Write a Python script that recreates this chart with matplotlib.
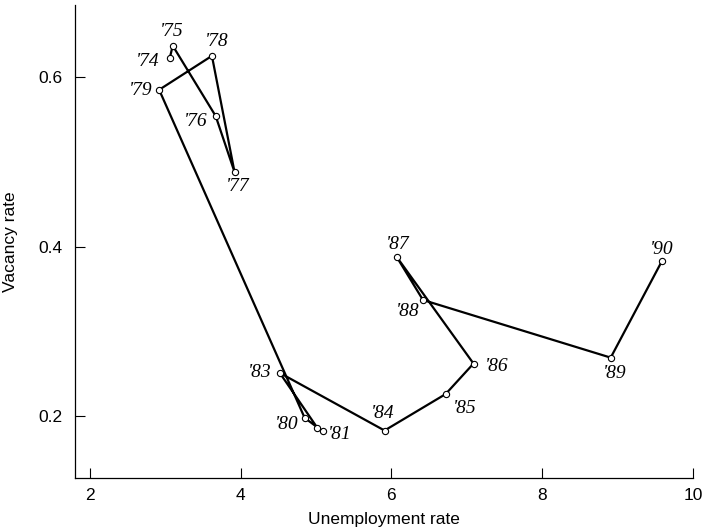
import matplotlib
matplotlib.use("Agg")
import matplotlib.pyplot as plt

years = ["'74", "'75", "'76", "'77", "'78", "'79", "'80", "'81", "'82",
         "'83", "'84", "'85", "'86", "'87", "'88", "'89", "'90"]
unemp = [3.06, 3.10, 3.67, 3.92, 3.62, 2.92, 4.85, 5.09, 5.02,
         4.52, 5.91, 6.72, 7.09, 6.07, 6.42, 8.91, 9.59]
vacancy = [0.622, 0.637, 0.554, 0.488, 0.625, 0.585, 0.198, 0.182, 0.186,
           0.251, 0.183, 0.226, 0.262, 0.388, 0.337, 0.269, 0.383]
show_label = [True] * 8 + [False] + [True] * 8

# label offsets in pixels (dx, dy), dy up
offsets = [(-22, -3), (-1, 14), (-20, -5), (3, -14), (5, 14), (-19, -1),
           (-18, -7), (17, -3), (0, 0), (-20, 0), (-2, 17), (19, -14),
           (23, -3), (1, 12), (-16, -12), (4, -16), (0, 12)]

fig = plt.figure(figsize=(7.02, 5.28), dpi=100)
ax = fig.add_axes([0.1075, 0.0947, 0.8795, 0.8958])

ax.plot(unemp, vacancy, color="black", lw=1.6, zorder=2)
ax.plot(unemp, vacancy, "o", ms=4.5, mfc="white", mec="black", mew=0.8, zorder=3)

for lab, x, y, off, show in zip(years, unemp, vacancy, offsets, show_label):
    if not show:
        continue
    ax.annotate(lab, (x, y), xytext=off, textcoords="offset pixels",
                ha="center", va="center", fontsize=14, style="italic",
                family="Liberation Serif")

ax.set_xlim(1.81, 10.0)
ax.set_ylim(0.127, 0.685)
ax.set_xticks([2, 4, 6, 8, 10])
ax.set_yticks([0.2, 0.4, 0.6])
ax.set_yticklabels(["0.2", "0.4", "0.6"])
ax.spines["top"].set_visible(False)
ax.spines["right"].set_visible(False)
for s in ("left", "bottom"):
    ax.spines[s].set_linewidth(0.9)
ax.tick_params(direction="in", length=7, width=0.8, labelsize=12.5, pad=7)
ax.tick_params(axis="y", pad=9)
for t in ax.get_xticklabels() + ax.get_yticklabels():
    t.set_family("Liberation Sans")
ax.set_xlabel("Unemployment rate", fontsize=12.5, family="Liberation Sans", labelpad=7)
ax.set_ylabel("Vacancy rate", fontsize=12.5, family="Liberation Sans", labelpad=15)

fig.savefig("out.png", dpi=100)
